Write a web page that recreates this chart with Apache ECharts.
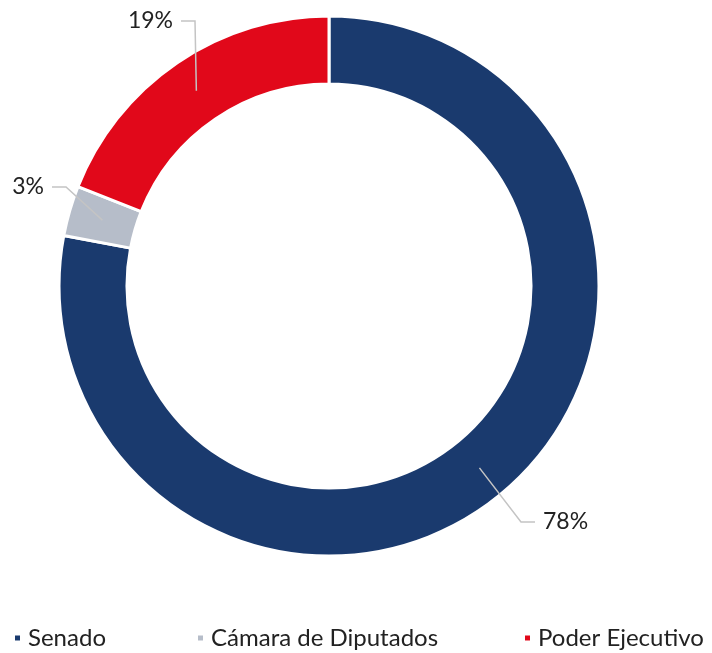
<!DOCTYPE html>
<html>
<head>
<meta charset="utf-8">
<script src="https://cdn.jsdelivr.net/npm/echarts@6/dist/echarts.min.js"></script>
<style>
  html, body { margin: 0; padding: 0; background: #fff; }
  #chartPie { width: 712px; height: 653px; }
</style>
</head>
<body>
<div id="chartPie"></div>
<script>
var names = ['Senado', 'Cámara de Diputados', 'Poder Ejecutivo']
var values = [78, 3, 19]
var colors = ['#1a3a6e', '#b6bdc9', '#e1081a']

// where each percentage label sits (layout only)
var cx = 329, cy = 286, r0 = 202, r1 = 270
var rm = (r0 + r1) / 2
var labelSpots = [
  { x: 543, y: 522, align: 'left' },
  { x: 44, y: 187, align: 'right' },
  { x: 173, y: 21, align: 'right' }
]
var legendLefts = [13, 196, 523]

var total = values.reduce(function (a, b) { return a + b }, 0)
var midAngles = []
var acc = 0
values.forEach(function (v) {
  midAngles.push((acc + v / 2) / total * Math.PI * 2)
  acc += v
})

var pieData = names.map(function (n, i) { return { name: n, value: values[i] } })

var chartPie = echarts.init(document.getElementById('chartPie'))
chartPie.setOption({
  animation: false,
  color: colors,
  legend: names.map(function (n, i) {
    return {
      left: legendLefts[i],
      top: 626,
      padding: 0,
      itemWidth: 7,
      itemHeight: 7,
      icon: 'rect',
      textStyle: { fontFamily: 'Lato', fontSize: 24, color: '#222', padding: [0, 0, 0, 2] },
      data: [n]
    }
  }),
  series: [{
    name: 'Origen',
    type: 'pie',
    radius: [r0, r1],
    center: [cx, cy],
    startAngle: 90,
    itemStyle: { borderColor: '#fff', borderWidth: 3 },
    label: { show: false },
    labelLine: { show: false },
    data: pieData
  }, {
    // same slices again, invisible and thinner, so the leader lines start mid-ring
    name: 'Etiquetas',
    type: 'pie',
    radius: [r0, rm],
    center: [cx, cy],
    startAngle: 90,
    z: 5,
    silent: true,
    legendHoverLink: false,
    avoidLabelOverlap: false,
    itemStyle: { color: 'rgba(0,0,0,0)', borderWidth: 0 },
    label: {
      show: true,
      position: 'outside',
      formatter: '{c}%',
      fontFamily: 'Lato',
      fontSize: 23,
      color: '#222',
      overflow: 'none',
      edgeDistance: 0,
      bleedMargin: 0
    },
    labelLine: {
      show: true,
      length2: 14,
      lineStyle: { color: '#c4c4c4', width: 1.5 }
    },
    labelLayout: function (p) {
      var s = labelSpots[p.dataIndex]
      var a = midAngles[p.dataIndex]
      var start = [cx + Math.sin(a) * rm, cy - Math.cos(a) * rm]
      var dir = s.align === 'left' ? -1 : 1
      var end = [s.x + dir * 8, s.y]
      var elbow = [end[0] + dir * 14, s.y]
      return {
        x: s.x,
        y: s.y,
        align: s.align,
        verticalAlign: 'middle',
        labelLinePoints: [start, elbow, end]
      }
    },
    data: pieData
  }]
})
</script>
</body>
</html>
